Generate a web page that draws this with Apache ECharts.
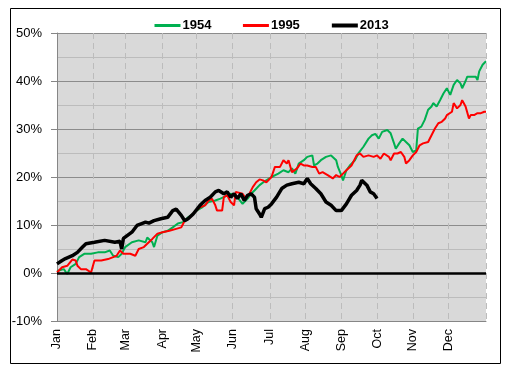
<!DOCTYPE html>
<html>
<head>
<meta charset="utf-8">
<script src="https://cdn.jsdelivr.net/npm/echarts@6/dist/echarts.min.js"></script>
<style>
  html, body { margin: 0; padding: 0; background: #fff; }
  #chart { width: 509px; height: 375px; }
</style>
</head>
<body>
<div id="chart"></div>
<script>
// trading day index where each month starts, and total days in the year
var monthNames = ['Jan', 'Feb', 'Mar', 'Apr', 'May', 'Jun', 'Jul', 'Aug', 'Sep', 'Oct', 'Nov', 'Dec'];
var monthStarts = [0, 21, 40, 62, 82, 103, 125, 146, 167, 188, 209, 230];
var totalDays = 252;

// [trading day, cumulative % return]
var data1954 = [
  [0, 0.4], [4, 0.8], [6, -0.2], [8, 1.2], [11, 1.9], [13, 3.3], [16, 4.0], [20, 4.0], [24, 4.3],
  [28, 4.3], [31, 4.7], [33, 3.6], [36, 3.3], [38, 4.0], [40, 5.4], [44, 6.4], [48, 6.8], [52, 6.4],
  [53, 7.4], [56, 6.4], [57, 5.4], [59, 7.8], [62, 8.5], [65, 8.8], [68, 9.5], [71, 10.3], [74, 10.6],
  [77, 11.6], [80, 12.3], [82, 13.0], [85, 13.6], [89, 14.8], [93, 15.1], [96, 15.5], [102, 16.5],
  [105, 16.2], [109, 14.4], [112, 15.5], [114, 16.5], [116, 17.2], [119, 18.3], [122, 19.1],
  [126, 20.0], [130, 20.7], [133, 21.4], [136, 21.0], [138, 21.8], [140, 20.7], [142, 22.8],
  [145, 23.5], [147, 24.2], [150, 24.5], [151, 22.4], [153, 22.8], [155, 23.5], [158, 24.2],
  [161, 24.5], [164, 23.5], [165, 22.1], [167, 20.4], [168, 19.3], [170, 21.4], [172, 22.4],
  [175, 23.5], [177, 24.9], [180, 26.3], [183, 28.0], [185, 28.7], [187, 29.0], [189, 28.0],
  [191, 29.4], [194, 29.8], [196, 29.1], [198, 27.0], [199, 25.9], [201, 27.0], [203, 28.0],
  [205, 27.3], [207, 26.6], [209, 25.2], [211, 25.6], [212, 30.1], [214, 30.5], [216, 31.9],
  [218, 34.0], [220, 34.7], [221, 35.4], [223, 34.7], [225, 36.0], [227, 37.4], [229, 38.5],
  [231, 37.1], [233, 39.2], [235, 40.2], [237, 39.5], [238, 38.5], [240, 40.0], [241, 40.9],
  [243, 40.9], [246, 40.9], [247, 40.2], [248, 42.0], [250, 43.4], [252, 44.1]
];
var data1995 = [
  [0, 0.1], [3, 1.2], [4, 1.5], [6, 1.5], [7, 1.2], [9, 2.8], [11, 2.6], [12, 1.5], [14, 0.8],
  [17, 0.8], [20, 0.1], [22, 2.6], [26, 2.6], [30, 2.9], [33, 3.3], [35, 3.6], [37, 4.7], [39, 4.0],
  [40, 4.3], [43, 4.0], [46, 3.6], [48, 5.0], [51, 5.4], [53, 6.1], [56, 7.1], [59, 8.2], [62, 8.5],
  [66, 8.8], [70, 9.2], [73, 9.5], [75, 10.9], [78, 11.6], [81, 12.7], [84, 13.7], [87, 14.1],
  [89, 15.1], [91, 15.5], [93, 14.1], [94, 13.0], [97, 13.0], [98, 15.8], [100, 16.2], [102, 14.8],
  [104, 14.1], [105, 16.9], [109, 16.5], [111, 15.5], [113, 16.5], [115, 17.9], [117, 18.9],
  [119, 19.5], [121, 19.3], [123, 18.9], [126, 20.0], [128, 22.1], [131, 22.1], [133, 23.5],
  [135, 22.8], [136, 23.5], [138, 21.0], [141, 21.8], [143, 22.8], [145, 22.4], [147, 22.4],
  [150, 22.1], [152, 22.1], [154, 20.7], [156, 21.0], [159, 20.4], [162, 19.7], [164, 20.4],
  [166, 20.0], [168, 20.7], [170, 21.4], [173, 22.4], [176, 24.5], [178, 24.9], [180, 24.2],
  [183, 24.5], [186, 24.2], [188, 24.5], [190, 23.8], [192, 24.9], [195, 24.2], [196, 23.5],
  [198, 24.9], [200, 24.9], [202, 25.2], [204, 24.2], [205, 22.8], [207, 23.5], [209, 24.5],
  [211, 25.2], [213, 26.6], [215, 27.0], [218, 27.3], [220, 28.7], [222, 30.1], [224, 31.2],
  [226, 31.5], [228, 32.2], [229, 32.9], [232, 33.6], [233, 35.4], [235, 34.3], [237, 35.0],
  [238, 36.0], [240, 34.7], [242, 32.2], [243, 32.9], [245, 32.9], [247, 33.3], [249, 33.3],
  [251, 33.6], [252, 33.6]
];
var data2013 = [
  [0, 1.9], [3, 2.6], [5, 3.0], [9, 3.6], [12, 4.3], [15, 5.4], [17, 6.1], [22, 6.4], [28, 6.8],
  [34, 6.4], [37, 6.6], [38, 5.0], [39, 7.2], [44, 8.5], [47, 9.9], [49, 10.2], [52, 10.6],
  [54, 10.4], [57, 10.9], [61, 11.3], [65, 11.6], [68, 13.0], [70, 13.3], [73, 12.0], [75, 10.9],
  [77, 11.3], [80, 12.3], [84, 14.1], [87, 15.1], [90, 15.8], [93, 16.9], [95, 17.2], [98, 16.5],
  [100, 16.9], [101, 17.2], [102, 15.8], [104, 16.5], [106, 15.5], [108, 16.5], [110, 15.1],
  [112, 16.2], [114, 16.5], [116, 15.8], [117, 13.4], [119, 12.3], [120, 11.6], [122, 13.4],
  [124, 13.7], [126, 14.4], [129, 15.8], [132, 17.6], [135, 18.3], [138, 18.6], [142, 18.9],
  [145, 18.6], [147, 19.7], [149, 18.6], [152, 17.6], [155, 16.5], [158, 14.8], [161, 14.1],
  [164, 13.0], [167, 13.0], [170, 14.4], [173, 16.2], [176, 17.2], [178, 18.3], [179, 19.3],
  [182, 18.3], [184, 16.9], [186, 16.5], [188, 15.5]
];
var yTicks = { min: -10, max: 50, step: 10 };

var categories = [];
for (var i = 0; i <= totalDays; i++) {
  var m = monthStarts.indexOf(i);
  categories.push(m >= 0 ? monthNames[m] : '');
}

var myChart = echarts.init(document.getElementById('chart'));
var option = {
  animation: false,
  backgroundColor: '#fff',
  textStyle: { fontFamily: 'Liberation Sans, Arial, sans-serif' },
  graphic: [{
    type: 'rect',
    shape: { x: 10.5, y: 8.5, width: 490, height: 355 },
    style: { fill: 'none', stroke: '#000', lineWidth: 1 },
    z: -1
  }],
  legend: {
    top: 14,
    left: 148,
    itemWidth: 26,
    itemHeight: 12,
    itemGap: 30,
    itemStyle: { opacity: 0 },
    textStyle: { fontWeight: 'bold', fontSize: 13, color: '#000', padding: [0, 0, 0, -3] },
    data: [
      { name: '1954', lineStyle: { width: 3 } },
      { name: '1995', lineStyle: { width: 3 } },
      { name: '2013', lineStyle: { width: 4 } }
    ]
  },
  grid: { left: 57, right: 23, top: 33, bottom: 54, backgroundColor: '#d9d9d9', show: true, borderWidth: 0 },
  xAxis: {
    type: 'category',
    data: categories,
    boundaryGap: false,
    axisLine: { onZero: false, lineStyle: { color: '#868686', width: 1 } },
    axisTick: { show: false },
    axisLabel: {
      rotate: 90,
      interval: function (idx) { return monthStarts.indexOf(idx) >= 0; },
      color: '#000',
      fontSize: 12.5,
      margin: 8
    },
    splitLine: {
      show: true,
      interval: function (idx) { return idx > 0 && (monthStarts.indexOf(idx) >= 0 || idx === totalDays); },
      lineStyle: { color: '#bcbcbc', type: [6, 4], width: 1 }
    }
  },
  yAxis: {
    type: 'value',
    min: yTicks.min,
    max: yTicks.max,
    interval: yTicks.step,
    axisLine: { show: true, lineStyle: { color: '#868686' } },
    axisTick: { show: true, length: 6, lineStyle: { color: '#868686' } },
    axisLabel: { formatter: '{value}%', color: '#000', fontSize: 13, margin: 15 },
    splitLine: { show: true, lineStyle: { color: '#8c8c8c', width: 1 } },
    minorTick: { show: false, splitNumber: 2 },
    minorSplitLine: { show: true, lineStyle: { color: '#bcbcbc', width: 1 } }
  },
  series: [
    {
      name: '1954', type: 'line', data: data1954, symbol: 'none',
      color: '#00b050', lineStyle: { width: 2 }, z: 3,
      markLine: {
        silent: true, symbol: 'none', label: { show: false },
        lineStyle: { color: '#000', width: 2.5, type: 'solid' },
        data: [{ yAxis: 0 }]
      }
    },
    { name: '1995', type: 'line', data: data1995, symbol: 'none', color: '#ff0000', lineStyle: { width: 2 }, z: 4 },
    { name: '2013', type: 'line', data: data2013, symbol: 'none', color: '#000', lineStyle: { width: 3.5 }, z: 5 }
  ]
};
myChart.setOption(option);
</script>
</body>
</html>
